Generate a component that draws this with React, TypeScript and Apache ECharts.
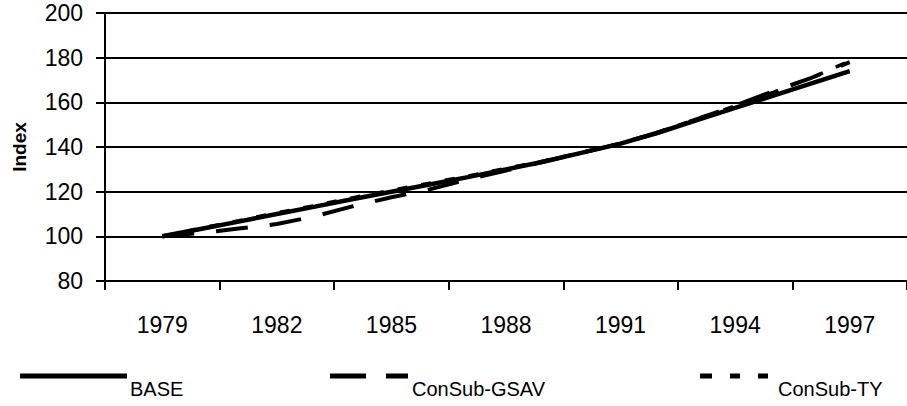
import React, { useEffect, useRef } from "react";
import * as echarts from "echarts";

const categories = [
  "1978", "1979", "1980", "1981", "1982", "1983", "1984", "1985", "1986", "1987",
  "1988", "1989", "1990", "1991", "1992", "1993", "1994", "1995", "1996", "1997", "1998",
];

const baseValues = [
  null, 100, 103.3, 106.6, 110, 113.3, 116.7, 120, 123.2, 126.5,
  130, 133.5, 137.5, 141.5, 146.5, 152, 157.5, 163, 168.5, 174, null,
];

const gsavValues = [
  null, 100, 101.5, 103.5, 105.5, 109, 113.5, 117.5, 121, 125.5,
  129.5, 133.5, 137.5, 141.5, 146.5, 152.5, 158.5, 165, 171, 178, null,
];

const tyValues = [
  null, 100, 103.6, 107, 110.5, 113.8, 117.3, 120.6, 123.8, 127,
  130.4, 133.8, 137.6, 141.7, 146.8, 152.5, 158.4, 164.5, 171, 178.5, null,
];

const seriesNames = ["BASE", "ConSub-GSAV", "ConSub-TY"];
const yTicks = { min: 80, max: 200, interval: 20 };

const FONT = "'Liberation Sans', Arial, sans-serif";

export default function App() {
  const ref = useRef<HTMLDivElement>(null);

  useEffect(() => {
    if (!ref.current) return;
    const chart = echarts.init(ref.current, null, { renderer: "svg" });
    const legendY = 376;
    const textY = 379;
    const option = {
      animation: false,
      backgroundColor: "#ffffff",
      grid: { left: 105, top: 13, width: 803, height: 268, containLabel: false },
      xAxis: {
        type: "category",
        data: categories,
        boundaryGap: true,
        axisLine: { show: true, lineStyle: { color: "#000", width: 2 } },
        axisTick: {
          show: true,
          interval: (i: number) => i % 3 === 0,
          length: 9,
          lineStyle: { color: "#000", width: 2 },
        },
        axisLabel: {
          interval: (i: number) => i % 3 === 1,
          color: "#000",
          fontFamily: FONT,
          fontSize: 23,
          margin: 32,
        },
        splitLine: { show: false },
      },
      yAxis: {
        type: "value",
        min: yTicks.min,
        max: yTicks.max,
        interval: yTicks.interval,
        name: "Index",
        nameLocation: "middle",
        nameGap: 76,
        nameTextStyle: { color: "#000", fontFamily: FONT, fontSize: 19, fontWeight: "bold" },
        axisLine: { show: true, lineStyle: { color: "#000", width: 2 } },
        axisTick: { show: true, length: 9, lineStyle: { color: "#000", width: 2 } },
        axisLabel: { color: "#000", fontFamily: FONT, fontSize: 23, margin: 22 },
        splitLine: { show: true, lineStyle: { color: "#000", width: 2 } },
      },
      series: [
        {
          name: seriesNames[0],
          type: "line",
          data: baseValues,
          showSymbol: false,
          symbol: "none",
          lineStyle: { color: "#000", width: 4.5, type: "solid", cap: "butt" },
        },
        {
          name: seriesNames[1],
          type: "line",
          data: gsavValues,
          showSymbol: false,
          symbol: "none",
          lineStyle: { color: "#000", width: 4, type: [32, 22], cap: "butt" },
        },
        {
          name: seriesNames[2],
          type: "line",
          data: tyValues,
          showSymbol: false,
          symbol: "none",
          lineStyle: { color: "#000", width: 3.5, type: [10, 14], cap: "butt" },
        },
      ],
      graphic: [
        { type: "line", shape: { x1: 20, y1: legendY, x2: 127, y2: legendY }, style: { stroke: "#000", lineWidth: 5 } },
        { type: "text", x: 130, y: textY, style: { text: seriesNames[0], fill: "#000", font: `20px ${FONT}` } },
        { type: "line", shape: { x1: 330, y1: legendY, x2: 366, y2: legendY }, style: { stroke: "#000", lineWidth: 5 } },
        { type: "line", shape: { x1: 386, y1: legendY, x2: 408, y2: legendY }, style: { stroke: "#000", lineWidth: 5 } },
        { type: "text", x: 412, y: textY, style: { text: seriesNames[1], fill: "#000", font: `20px ${FONT}` } },
        { type: "line", shape: { x1: 700, y1: legendY, x2: 712, y2: legendY }, style: { stroke: "#000", lineWidth: 5 } },
        { type: "line", shape: { x1: 730, y1: legendY, x2: 740, y2: legendY }, style: { stroke: "#000", lineWidth: 5 } },
        { type: "line", shape: { x1: 758, y1: legendY, x2: 768, y2: legendY }, style: { stroke: "#000", lineWidth: 5 } },
        { type: "text", x: 778, y: textY, style: { text: seriesNames[2], fill: "#000", font: `20px ${FONT}` } },
      ],
    };
    chart.setOption(option);
    return () => chart.dispose();
  }, []);

  return (
    <div
      ref={ref}
      style={{ position: "fixed", left: 0, top: 0, width: 907, height: 406, background: "#fff" }}
    />
  );
}
